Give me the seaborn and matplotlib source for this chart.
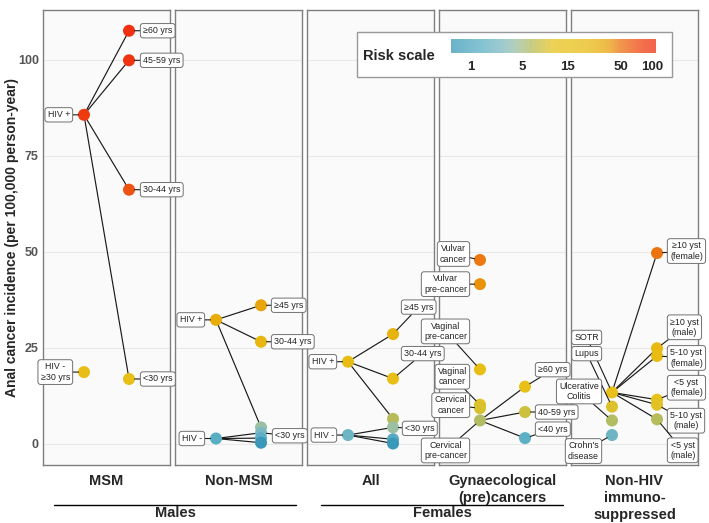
import numpy as np
import pandas as pd
import matplotlib
matplotlib.use("Agg")
import matplotlib.pyplot as plt
import matplotlib.colors as mcolors
from matplotlib.lines import Line2D
from matplotlib.patches import Rectangle
import seaborn as sns

sns.set_style("white")
plt.rcParams['font.family'] = ['Liberation Sans', 'DejaVu Sans']

# ---- data (incidence per 100,000 person-years) ----
# left column = reference groups, right column = subgroups linked to a parent in the left column
msm_left = ["HIV +", "HIV -\n≥30 yrs"]
msm_left_vals = [85.7, 18.7]
msm_right = ["≥60 yrs", "45-59 yrs", "30-44 yrs", "<30 yrs"]
msm_right_vals = [107.6, 99.9, 66.2, 16.9]
msm_parent = [0, 0, 0, 0]

nonmsm_left = ["HIV +", "HIV -"]
nonmsm_left_vals = [32.3, 1.4]
nonmsm_right = ["≥45 yrs", "30-44 yrs", "", "<30 yrs", "", ""]
nonmsm_right_vals = [36.1, 26.6, 4.3, 2.9, 1.5, 0.3]
nonmsm_parent = [0, 0, 0, 1, 1, 1]

all_left = ["HIV +", "HIV -"]
all_left_vals = [21.4, 2.3]
all_right = ["≥45 yrs", "30-44 yrs", "", "<30 yrs", "", ""]
all_right_vals = [28.6, 17.0, 6.5, 4.3, 1.2, 0.1]
all_parent = [0, 0, 0, 1, 1, 1]

gyn_left = ["Vulvar\ncancer", "Vulvar\npre-cancer", "Vaginal\npre-cancer",
            "Vaginal\ncancer", "Cervical\ncancer", "Cervical\npre-cancer"]
gyn_left_vals = [47.9, 41.6, 19.4, 10.2, 9.3, 6.1]
gyn_right = ["≥60 yrs", "40-59 yrs", "<40 yrs"]
gyn_right_vals = [14.9, 8.3, 1.5]
gyn_parent = [5, 5, 5]

imm_left = ["SOTR", "Lupus", "Ulcerative\nColitis", "Crohn's\ndisease"]
imm_left_vals = [13.4, 9.7, 6.1, 2.3]
imm_right = ["≥10 yst\n(female)", "≥10 yst\n(male)", "5-10 yst\n(female)",
             "<5 yst\n(female)", "5-10 yst\n(male)", "<5 yst\n(male)"]
imm_right_vals = [49.7, 24.9, 22.9, 11.5, 10.2, 6.4]
imm_parent = [0, 0, 0, 0, 0, 0]

panel_names = ["MSM", "Non-MSM", "All", "Gynaecological\n(pre)cancers",
               "Non-HIV\nimmuno-\nsuppressed"]

# label offsets in pixels (dx, dy) - layout only
msm_left_off = [(-14, 0), (-14, 0)]
msm_right_off = [(14, 0), (14, 0), (14, 0), (14, 0)]
nonmsm_left_off = [(-14, 0), (-14, 0)]
nonmsm_right_off = [(13, 0), (13, 0), (0, 0), (14, -3), (0, 0), (0, 0)]
all_left_off = [(-14, 0), (-14, 0)]
all_right_off = [(11, 27), (11, 25), (0, 0), (12, -1), (0, 0), (0, 0)]
gyn_left_off = [(-13, 6), (-13, 0), (-13, 38), (-13, 28), (-13, 3), (-13, -30)]
gyn_right_off = [(13, 17), (13, 0), (13, 9)]
imm_left_off = [(-13, 55), (-13, 53), (-13, 29), (-13, -16)]
imm_right_off = [(13, 2), (13, 21), (13, -2), (13, 12), (13, -16), (13, -31)]

panels = [
    (msm_left, msm_left_vals, msm_right, msm_right_vals, msm_parent, msm_left_off, msm_right_off),
    (nonmsm_left, nonmsm_left_vals, nonmsm_right, nonmsm_right_vals, nonmsm_parent, nonmsm_left_off, nonmsm_right_off),
    (all_left, all_left_vals, all_right, all_right_vals, all_parent, all_left_off, all_right_off),
    (gyn_left, gyn_left_vals, gyn_right, gyn_right_vals, gyn_parent, gyn_left_off, gyn_right_off),
    (imm_left, imm_left_vals, imm_right, imm_right_vals, imm_parent, imm_left_off, imm_right_off),
]

# ---- colour scale: log10(x + 1) ----
def fwd(v):
    return np.log10(np.asarray(v, dtype=float) + 1)

def inv(v):
    return 10 ** np.asarray(v, dtype=float) - 1

norm = mcolors.FuncNorm((fwd, inv), vmin=0.3, vmax=108)
cmap = mcolors.LinearSegmentedColormap.from_list("risk", [
    (0.0, "#3a98b8"), (0.14, "#5aaec4"), (0.24, "#78b8c4"), (0.32, "#9cc0a0"),
    (0.39, "#b4bc5c"), (0.45, "#d0c038"), (0.50, "#e8c21c"), (0.66, "#e8bc12"),
    (0.74, "#e8ac0a"), (0.78, "#e99a0c"), (0.82, "#eb7810"), (0.89, "#ed5410"),
    (0.95, "#ef3a10"), (1.0, "#f03010")])

fig = plt.figure(figsize=(7.09, 5.23), dpi=100)
W, H = 709, 523
lefts = [43, 175, 307, 439, 571]
pw = 127
top, bot = 10, 465

overlay = fig.add_axes([0, 0, 1, 1], zorder=10)
overlay.axis("off")
overlay.patch.set_alpha(0)

axes = []
for i, (lnames, lvals, rnames, rvals, parent, loff, roff) in enumerate(panels):
    ax = fig.add_axes([lefts[i] / W, 1 - bot / H, pw / W, (bot - top) / H])
    axes.append(ax)
    ax.set_facecolor("#fafafa")
    for s in ax.spines.values():
        s.set_color("#7f7f7f")
        s.set_linewidth(1)
    ax.set_xlim(0.09, 2.91)
    ax.set_ylim(-5.5, 113)
    ax.set_yticks([0, 25, 50, 75, 100])
    ax.set_xticks([])
    ax.grid(axis="y", color="#e8e8e8", lw=0.8)
    ax.set_axisbelow(True)

    # connecting lines
    for p, v in zip(parent, rvals):
        ax.plot([1, 2], [lvals[p], v], color="#1a1a1a", lw=0.85, zorder=2)

    df = pd.DataFrame({"x": [1] * len(lvals) + [2] * len(rvals),
                       "value": list(lvals) + list(rvals)})
    sns.scatterplot(data=df, x="x", y="value", hue="value", hue_norm=norm,
                    palette=cmap, s=75, linewidth=0, legend=False, ax=ax, zorder=3)
    ax.set_xlabel("")
    ax.set_ylabel("")
    if i == 0:
        ax.tick_params(axis="y", length=0, pad=3, labelsize=9, labelcolor="#555555")
        for t in ax.get_yticklabels():
            t.set_fontweight("bold")
    else:
        ax.tick_params(axis="y", length=0, labelleft=False)

    # labels
    for names, vals, offs, xx, ha in [(lnames, lvals, loff, 1, "right"),
                                      (rnames, rvals, roff, 2, "left")]:
        for n, v, (dx, dy) in zip(names, vals, offs):
            if not n:
                continue
            overlay.annotate(n, xy=(xx, v), xycoords=ax.transData,
                             xytext=(dx, dy), textcoords="offset pixels",
                             ha=ha, va="center", multialignment="center",
                             fontsize=6.4, color="#222222",
                             bbox=dict(boxstyle="round,pad=0.3", fc="white",
                                       ec="#707070", lw=0.7),
                             arrowprops=dict(arrowstyle="-", color="#1a1a1a",
                                             lw=0.8, shrinkA=0, shrinkB=4),
                             annotation_clip=False)

    # facet strip text (one line at a time)
    for k, line in enumerate(panel_names[i].split("\n")):
        fig.text((lefts[i] + pw / 2) / W, 1 - (481 + 17 * k) / H, line, ha="center",
                 va="center", fontsize=10.5, fontweight="bold")

fig.text(12 / W, 1 - 237.5 / H, "Anal cancer incidence (per 100,000 person-year)",
         rotation=90, ha="center", va="center", fontsize=10, fontweight="bold")

# group labels
for x0, x1, name in [(54, 296, "Males"), (321, 563, "Females")]:
    fig.add_artist(Line2D([x0 / W, x1 / W], [1 - 504.5 / H] * 2, color="black", lw=1))
    fig.text((x0 + x1) / 2 / W, 1 - 513 / H, name, ha="center", va="center",
             fontsize=10.5, fontweight="bold")

# risk scale legend
box = Rectangle((357 / W, 1 - 77 / H), 315 / W, 45 / H, transform=fig.transFigure,
                fc="white", ec="#999999", lw=1, zorder=20)
fig.add_artist(box)
fig.text(363 / W, 1 - 56 / H, "Risk scale", ha="left", va="center", fontsize=10.5,
         fontweight="bold", zorder=21)
cax = fig.add_axes([451 / W, 1 - 52.5 / H, 205 / W, 14 / H], zorder=21)
sm = plt.cm.ScalarMappable(norm=norm, cmap=cmap)
cb = fig.colorbar(sm, cax=cax, orientation="horizontal", alpha=0.75)
cb.outline.set_visible(False)
cb.set_ticks([1, 5, 15, 50, 100])
cb.set_ticklabels(["1", "5", "15", "50", "100"])
cax.tick_params(axis="x", direction="in", color="white", length=3, pad=6, labelsize=9.5)
for t in cax.get_xticklabels():
    t.set_fontweight("bold")

fig.savefig("out.png", dpi=100)
